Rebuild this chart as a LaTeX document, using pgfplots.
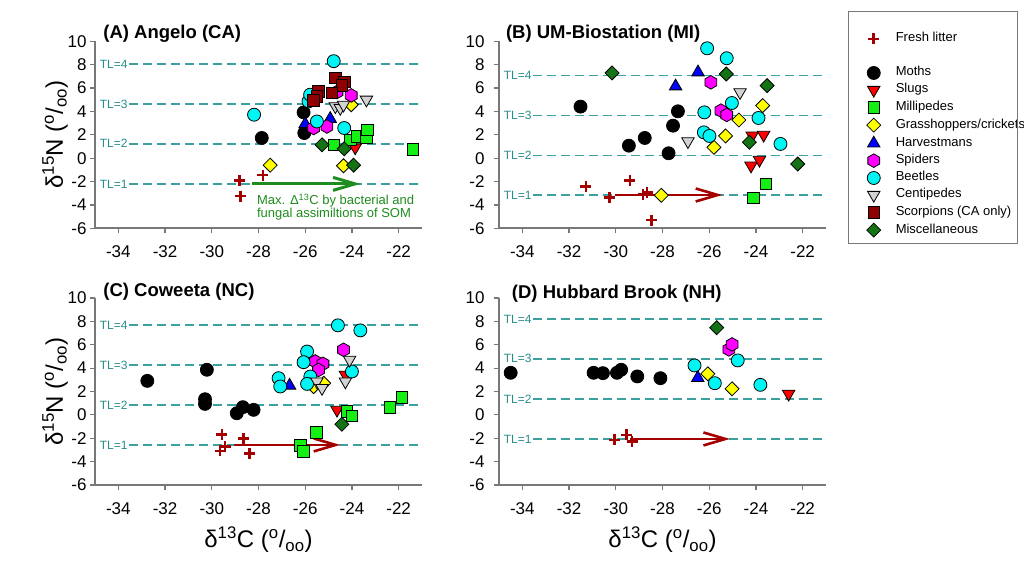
\documentclass[border=0pt]{standalone}
\usepackage{fontspec}
\setmainfont{Liberation Sans}
\usepackage{pgfplots}
\pgfplotsset{compat=1.18}
\usetikzlibrary{arrows.meta}

\definecolor{litred}{RGB}{165,0,0}
\definecolor{scorpred}{RGB}{145,0,0}
\definecolor{slugred}{RGB}{255,0,0}
\definecolor{milgreen}{RGB}{20,240,20}
\definecolor{grassyel}{RGB}{255,255,0}
\definecolor{harvblue}{RGB}{0,0,255}
\definecolor{spidmag}{RGB}{255,0,255}
\definecolor{beetcyan}{RGB}{0,245,245}
\definecolor{centgray}{RGB}{210,210,210}
\definecolor{miscgreen}{RGB}{20,115,20}
\definecolor{tlcol}{RGB}{60,160,160}
\definecolor{tltext}{RGB}{40,140,140}
\definecolor{somgreen}{RGB}{30,140,30}
\definecolor{axgray}{RGB}{120,120,120}

\pgfdeclareplotmark{hexagon*}{%
  \pgfpathmoveto{\pgfqpointpolar{30}{\pgfplotmarksize}}%
  \pgfpathlineto{\pgfqpointpolar{90}{\pgfplotmarksize}}%
  \pgfpathlineto{\pgfqpointpolar{150}{\pgfplotmarksize}}%
  \pgfpathlineto{\pgfqpointpolar{210}{\pgfplotmarksize}}%
  \pgfpathlineto{\pgfqpointpolar{270}{\pgfplotmarksize}}%
  \pgfpathlineto{\pgfqpointpolar{330}{\pgfplotmarksize}}%
  \pgfpathclose\pgfusepathqfillstroke}
\pgfdeclareplotmark{sqdiamond*}{%
  \pgfpathmoveto{\pgfqpoint{0pt}{\pgfplotmarksize}}%
  \pgfpathlineto{\pgfqpoint{\pgfplotmarksize}{0pt}}%
  \pgfpathlineto{\pgfqpoint{0pt}{-\pgfplotmarksize}}%
  \pgfpathlineto{\pgfqpoint{-\pgfplotmarksize}{0pt}}%
  \pgfpathclose\pgfusepathqfillstroke}

\tikzset{
  tllab/.style={text=tltext, font=\fontsize{12}{14}\selectfont, inner sep=0pt},
  ptitle/.style={anchor=base west, font=\bfseries\fontsize{18.5}{20}\selectfont, inner sep=0pt},
}

\pgfplotsset{
  panel/.style={scale only axis, width=327pt, height=187pt,
    xmin=-35, xmax=-21, ymin=-6, ymax=10,
    axis x line*=bottom, axis y line*=left,
    axis line style={-, draw=axgray, line width=1.6pt},
    tick style={draw=axgray, line width=1.2pt},
    tick align=outside, major tick length=5pt,
    xtick={-34,-32,...,-22}, ytick={-6,-4,...,10},
    ticklabel style={font=\fontsize{17}{19}\selectfont},
    xticklabel style={yshift=-9pt},
    /pgf/number format/assume math mode=true,
    clip=false},
  tlline/.style={draw=tlcol, line width=1.5pt, dash pattern=on 9pt off 5pt, forget plot},
  litter/.style={only marks, mark=+, mark size=5.5pt, mark options={draw=litred, line width=2.6pt}},
  moth/.style={only marks, mark=*, mark size=6.5pt, mark options={fill=black, draw=black, line width=0.8pt}},
  slug/.style={only marks, mark=triangle*, mark size=7.2pt, mark options={rotate=180, fill=slugred, draw=black, line width=0.8pt}},
  milli/.style={only marks, mark=square*, mark size=5.8pt, mark options={fill=milgreen, draw=black, line width=0.8pt}},
  grass/.style={only marks, mark=sqdiamond*, mark size=7pt, mark options={fill=grassyel, draw=black, line width=0.8pt}},
  harv/.style={only marks, mark=triangle*, mark size=7.2pt, mark options={fill=harvblue, draw=black, line width=0.8pt}},
  spid/.style={only marks, mark=hexagon*, mark size=6.8pt, mark options={fill=spidmag, draw=black, line width=0.8pt}},
  beet/.style={only marks, mark=*, mark size=6.5pt, mark options={fill=beetcyan, draw=black, line width=0.8pt}},
  cent/.style={only marks, mark=triangle*, mark size=7.2pt, mark options={rotate=180, fill=centgray, draw=black, line width=0.8pt}},
  scorp/.style={only marks, mark=square*, mark size=5.8pt, mark options={fill=scorpred, draw=black, line width=0.8pt}},
  misc/.style={only marks, mark=sqdiamond*, mark size=7pt, mark options={fill=miscgreen, draw=black, line width=0.8pt}},
}

\newcommand{\TLs}[4]{%
  \addplot[tlline] coordinates {(-33.55,#1) (-21,#1)};
  \addplot[tlline] coordinates {(-33.55,#2) (-21,#2)};
  \addplot[tlline] coordinates {(-33.55,#3) (-21,#3)};
  \addplot[tlline] coordinates {(-33.55,#4) (-21,#4)};
  \node[tllab] at (axis cs:-34.2,#1) {TL=1};
  \node[tllab] at (axis cs:-34.2,#2) {TL=2};
  \node[tllab] at (axis cs:-34.2,#3) {TL=3};
  \node[tllab] at (axis cs:-34.2,#4) {TL=4};
}

\begin{document}
\begin{tikzpicture}
\useasboundingbox (0pt,0pt) rectangle (1024pt,563pt);

% ---------------- (A) Angelo ----------------
\begin{axis}[panel, at={(95pt,334.7pt)}, anchor=south west,
  legend cell align=left,
  legend style={at={(2.3456,1.059)}, anchor=north west, draw=none, fill=none,
    font=\fontsize{13}{15}\selectfont, row sep=4pt, column sep=15pt,
    nodes={inner sep=0pt, text height=9.5pt, text depth=3.5pt}}]
\TLs{-2.2}{1.23}{4.63}{8.06}
\addplot[forget plot, draw=somgreen, line width=3pt, -{Straight Barb[length=22pt,width=13pt]}] coordinates {(-28.26,-2.2) (-23.64,-2.2)};
\node[anchor=base west, text=somgreen, font=\fontsize{13}{15}\selectfont, inner sep=0pt] at (axis cs:-28.07,-4.0) {Max. \symbol{"0394}\textsuperscript{13}C by bacterial and};
\node[anchor=base west, text=somgreen, font=\fontsize{13}{15}\selectfont, inner sep=0pt] at (axis cs:-28.07,-5.09) {fungal assimiltions of SOM};
\node[ptitle] at (rel axis cs:0.025,1.013) {(A) Angelo (CA)};
\addplot[litter] coordinates {(-28.81,-1.93) (-28.76,-3.24) (-27.81,-1.45)};
\addlegendentry{Fresh litter}
\addlegendimage{empty legend}
\addlegendentry{\mbox{}}
\addplot[moth] coordinates {(-27.86,1.73) (-26.07,3.92) (-26.04,2.15)};
\addlegendentry{Moths}
\addplot[slug] coordinates {(-23.86,0.91)};
\addlegendentry{Slugs}
\addplot[milli] coordinates {(-24.78,1.14) (-24.07,1.57) (-23.79,1.86) (-23.39,1.77) (-23.33,2.43) (-21.39,0.77)};
\addlegendentry{Millipedes}
\addplot[grass] coordinates {(-27.5,-0.6) (-24.36,-0.65) (-24.03,4.57)};
\addlegendentry{Grasshoppers/crickets}
\addplot[harv] coordinates {(-26.0,2.92) (-24.93,3.37)};
\addlegendentry{Harvestmans}
\addplot[spid] coordinates {(-24.03,5.37) (-24.64,5.66) (-25.64,2.58) (-25.07,2.71)};
\addlegendentry{Spiders}
\addplot[beet] coordinates {(-28.19,3.72) (-24.78,8.3) (-25.86,4.86) (-25.79,5.43) (-25.5,3.14) (-24.33,2.58)};
\addlegendentry{Beetles}
\addplot[cent] coordinates {(-23.38,5.0) (-24.71,4.43) (-24.5,4.29) (-24.36,4.57)};
\addlegendentry{Centipedes}
\addplot[scorp] coordinates {(-24.71,6.86) (-24.33,6.52) (-24.43,6.23) (-25.43,5.72) (-25.5,5.3) (-24.85,5.58) (-25.64,4.92)};
\addlegendentry{Scorpions (CA only)}
\addplot[misc] coordinates {(-25.28,1.14) (-24.33,0.8) (-23.93,-0.6)};
\addlegendentry{Miscellaneous}
\end{axis}

% ---------------- (B) UM-Biostation ----------------
\begin{axis}[panel, at={(499pt,334.7pt)}, anchor=south west, yticklabel style={xshift=-6pt}]
\TLs{-3.15}{0.22}{3.64}{7.09}
\addplot[forget plot, draw=litred, line width=2.6pt, -{Straight Barb[length=22pt,width=13pt]}] coordinates {(-30.04,-3.15) (-25.44,-3.15)};
\node[ptitle] at (rel axis cs:0.021,1.013) {(B) UM-Biostation (MI)};
\addplot[litter] coordinates {(-31.28,-2.41) (-30.26,-3.35) (-29.4,-1.92) (-28.83,-3.12) (-28.66,-2.92) (-28.48,-5.29)};
\addplot[moth] coordinates {(-31.51,4.41) (-29.44,1.07) (-28.76,1.73) (-27.55,2.78) (-27.34,4.01) (-27.74,0.42)};
\addplot[slug] coordinates {(-24.16,1.93) (-23.67,1.99) (-24.21,-0.64) (-23.85,-0.15)};
\addplot[milli] coordinates {(-24.11,-3.41) (-23.57,-2.21)};
\addplot[grass] coordinates {(-28.05,-3.18) (-25.8,0.93) (-25.3,1.9) (-24.73,3.27) (-23.71,4.5)};
\addplot[harv] coordinates {(-27.44,6.15) (-26.48,7.35)};
\addplot[spid] coordinates {(-25.93,6.49) (-25.5,4.07) (-25.25,3.7)};
\addplot[beet] coordinates {(-26.09,9.4) (-25.25,8.55) (-26.21,3.92) (-25.03,4.72) (-23.89,3.44) (-26.23,2.21) (-25.99,1.9) (-22.95,1.22)};
\addplot[cent] coordinates {(-26.91,1.44) (-24.68,5.64)};
\addplot[misc] coordinates {(-30.16,7.29) (-25.27,7.2) (-23.52,6.21) (-24.28,1.36) (-22.21,-0.5)};
\end{axis}

% ---------------- (C) Coweeta ----------------
\begin{axis}[panel, at={(95pt,78pt)}, anchor=south west]
\TLs{-2.57}{0.86}{4.26}{7.69}
\addplot[forget plot, draw=litred, line width=2.6pt, -{Straight Barb[length=22pt,width=13pt]}] coordinates {(-29.07,-2.57) (-24.5,-2.57)};
\node[ptitle] at (rel axis cs:0.025,1.008) {(C) Coweeta (NC)};
\addplot[litter] coordinates {(-29.57,-1.66) (-29.64,-3.09) (-29.43,-2.71) (-28.64,-2.0) (-28.39,-3.29)};
\addplot[moth] coordinates {(-32.76,2.91) (-30.21,3.86) (-30.29,1.34) (-30.29,0.94) (-28.93,0.14) (-28.67,0.66) (-28.21,0.43)};
\addplot[slug] coordinates {(-24.64,0.43) (-24.28,3.43)};
\addplot[milli] coordinates {(-26.21,-2.63) (-26.07,-3.14) (-25.53,-1.51) (-24.21,0.28) (-24.0,-0.09) (-22.38,0.66) (-21.86,1.49)};
\addplot[grass] coordinates {(-25.64,2.42) (-25.21,2.71)};
\addplot[harv] coordinates {(-26.67,2.51)};
\addplot[spid] coordinates {(-25.57,4.57) (-25.24,4.37) (-25.43,3.85) (-24.36,5.57)};
\addplot[beet] coordinates {(-27.14,3.14) (-27.07,2.43) (-25.92,5.42) (-26.07,4.51) (-25.78,3.28) (-25.92,2.65) (-24.6,7.66) (-23.64,7.23) (-24.0,3.71)};
\addplot[cent] coordinates {(-24.1,4.71) (-24.28,2.85) (-25.5,2.85) (-25.28,2.29)};
\addplot[misc] coordinates {(-24.43,-0.8)};
\end{axis}

% ---------------- (D) Hubbard Brook ----------------
\begin{axis}[panel, at={(499pt,78pt)}, anchor=south west, yticklabel style={xshift=-6pt}]
\TLs{-2.06}{1.37}{4.8}{8.2}
\addplot[forget plot, draw=litred, line width=2.6pt, -{Straight Barb[length=22pt,width=13pt]}] coordinates {(-29.41,-2.06) (-25.11,-2.06)};
\node[ptitle] at (rel axis cs:0.039,1.0) {(D) Hubbard Brook (NH)};
\addplot[litter] coordinates {(-30.05,-2.14) (-29.55,-1.71) (-29.3,-2.29)};
\addplot[moth] coordinates {(-34.5,3.6) (-30.95,3.6) (-30.55,3.57) (-29.95,3.6) (-29.77,3.86) (-29.08,3.29) (-28.09,3.14)};
\addplot[slug] coordinates {(-22.6,1.8)};
\addplot[grass] coordinates {(-26.06,3.51) (-25.02,2.23)};
\addplot[harv] coordinates {(-26.49,3.17)};
\addplot[spid] coordinates {(-25.16,5.6) (-25.02,6.03)};
\addplot[beet] coordinates {(-26.63,4.23) (-25.76,2.71) (-24.78,4.66) (-23.81,2.57)};
\addplot[misc] coordinates {(-25.68,7.46)};
\end{axis}

% legend frame
\draw[draw=axgray, line width=1pt] (848pt,320pt) rectangle (1017pt,551pt);

% axis labels
\node[rotate=90, font=\fontsize{24}{26}\selectfont] at (55pt,428.5pt) {δ\textsuperscript{15}N (\textsuperscript{o}/\textsubscript{oo})};
\node[rotate=90, font=\fontsize{24}{26}\selectfont] at (55pt,171.5pt) {δ\textsuperscript{15}N (\textsuperscript{o}/\textsubscript{oo})};
\node[font=\fontsize{24}{26}\selectfont] at (258.5pt,23pt) {δ\textsuperscript{13}C (\textsuperscript{o}/\textsubscript{oo})};
\node[font=\fontsize{24}{26}\selectfont] at (662.5pt,23pt) {δ\textsuperscript{13}C (\textsuperscript{o}/\textsubscript{oo})};
\end{tikzpicture}
\end{document}
